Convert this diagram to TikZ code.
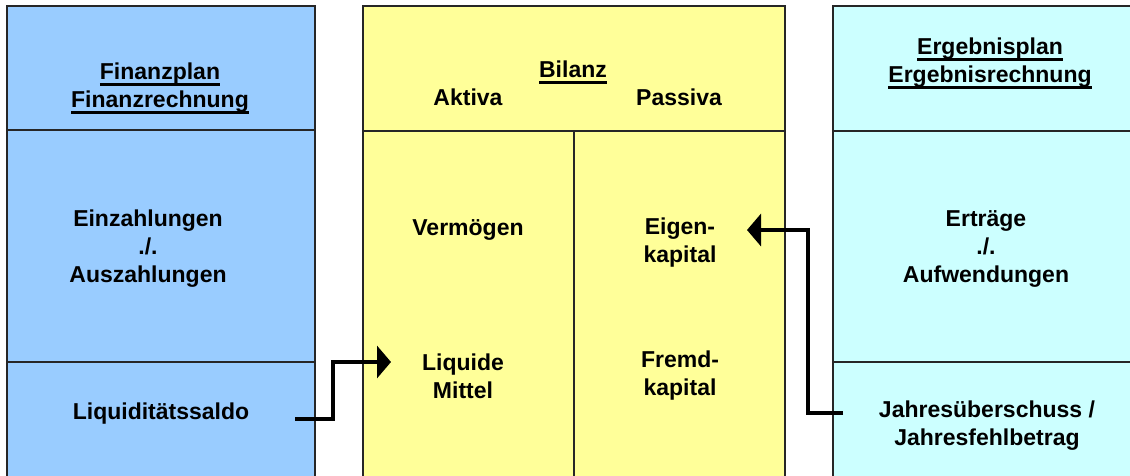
\documentclass[tikz,border=0pt]{standalone}
\usepackage{fontspec}
\setmainfont{Liberation Sans}
\usetikzlibrary{arrows.meta}
\definecolor{finblue}{HTML}{99CCFF}
\definecolor{bilyellow}{HTML}{FFFF99}
\definecolor{ergcyan}{HTML}{CCFFFF}
% underline at a fixed depth below the baseline
\newcommand\ulword[1]{\setbox0\hbox{#1}\rlap{\rule[-6.5pt]{\wd0}{2.2pt}}\box0}
\tikzset{
  panel/.style={draw=black!85, line width=1.1pt},
  txt/.style={font=\fontsize{23}{28}\selectfont\bfseries, align=center, inner sep=0pt},
  flow/.style={line width=4pt, -{Triangle[length=14pt,width=32pt]}}
}
\begin{document}
\begin{tikzpicture}[x=1pt, y=-1pt]
\clip (0,0) rectangle (1130,475);

% Finanzplan
\draw[panel, fill=finblue] (7,6) rectangle (315,490);
\draw[panel] (7,130) -- (315,130);
\draw[panel] (7,362) -- (315,362);

% Bilanz
\draw[panel, fill=bilyellow] (363,6) rectangle (785,490);
\draw[panel] (363,131) -- (785,131);
\draw[panel] (574,131) -- (574,490);

% Ergebnisplan
\draw[panel, fill=ergcyan] (833,6) rectangle (1150,490);
\draw[panel] (833,131) -- (1150,131);
\draw[panel] (833,362) -- (1150,362);

\node[txt] (finhead) at (160,88) {\ulword{Finanzplan}\\\ulword{Finanzrechnung}};
\node[txt, anchor=base] (bilanz) at (573,77) {\ulword{Bilanz}};
\node[txt, anchor=base] (aktiva) at (468,105) {Aktiva};
\node[txt, anchor=base] (passiva) at (679,105) {Passiva};
\node[txt] (erghead) at (990,63) {\ulword{Ergebnisplan}\\\ulword{Ergebnisrechnung}};

\node[txt] (einaus) at (148,249) {Einzahlungen\\./.\\Auszahlungen};
\node[txt, anchor=base] (vermoegen) at (468,235) {Vermögen};
\node[txt] (eigen) at (680,243) {Eigen-\\kapital};
\node[txt] (ertrag) at (986,249) {Erträge\\./.\\Aufwendungen};

\node[txt, anchor=base] (saldo) at (161,419) {Liquiditätssaldo};
\node[txt] (liquide) at (463,376) {Liquide\\Mittel};
\node[txt] (fremd) at (680,376) {Fremd-\\kapital};
\node[txt] (jahr) at (987,426) {Jahresüberschuss /\\Jahresfehlbetrag};

% Saldo -> liquide Mittel, Ergebnis -> Eigenkapital
\coordinate (saldo-out) at (295,419);
\coordinate (liquide-in) at (391,362);
\draw[flow] (saldo-out) -- ++(38,0) |- (liquide-in);
\coordinate (jahr-out) at (843,413);
\coordinate (eigen-in) at (747,230);
\draw[flow] (jahr-out) -- ++(-35,0) |- (eigen-in);
\end{tikzpicture}
\end{document}
